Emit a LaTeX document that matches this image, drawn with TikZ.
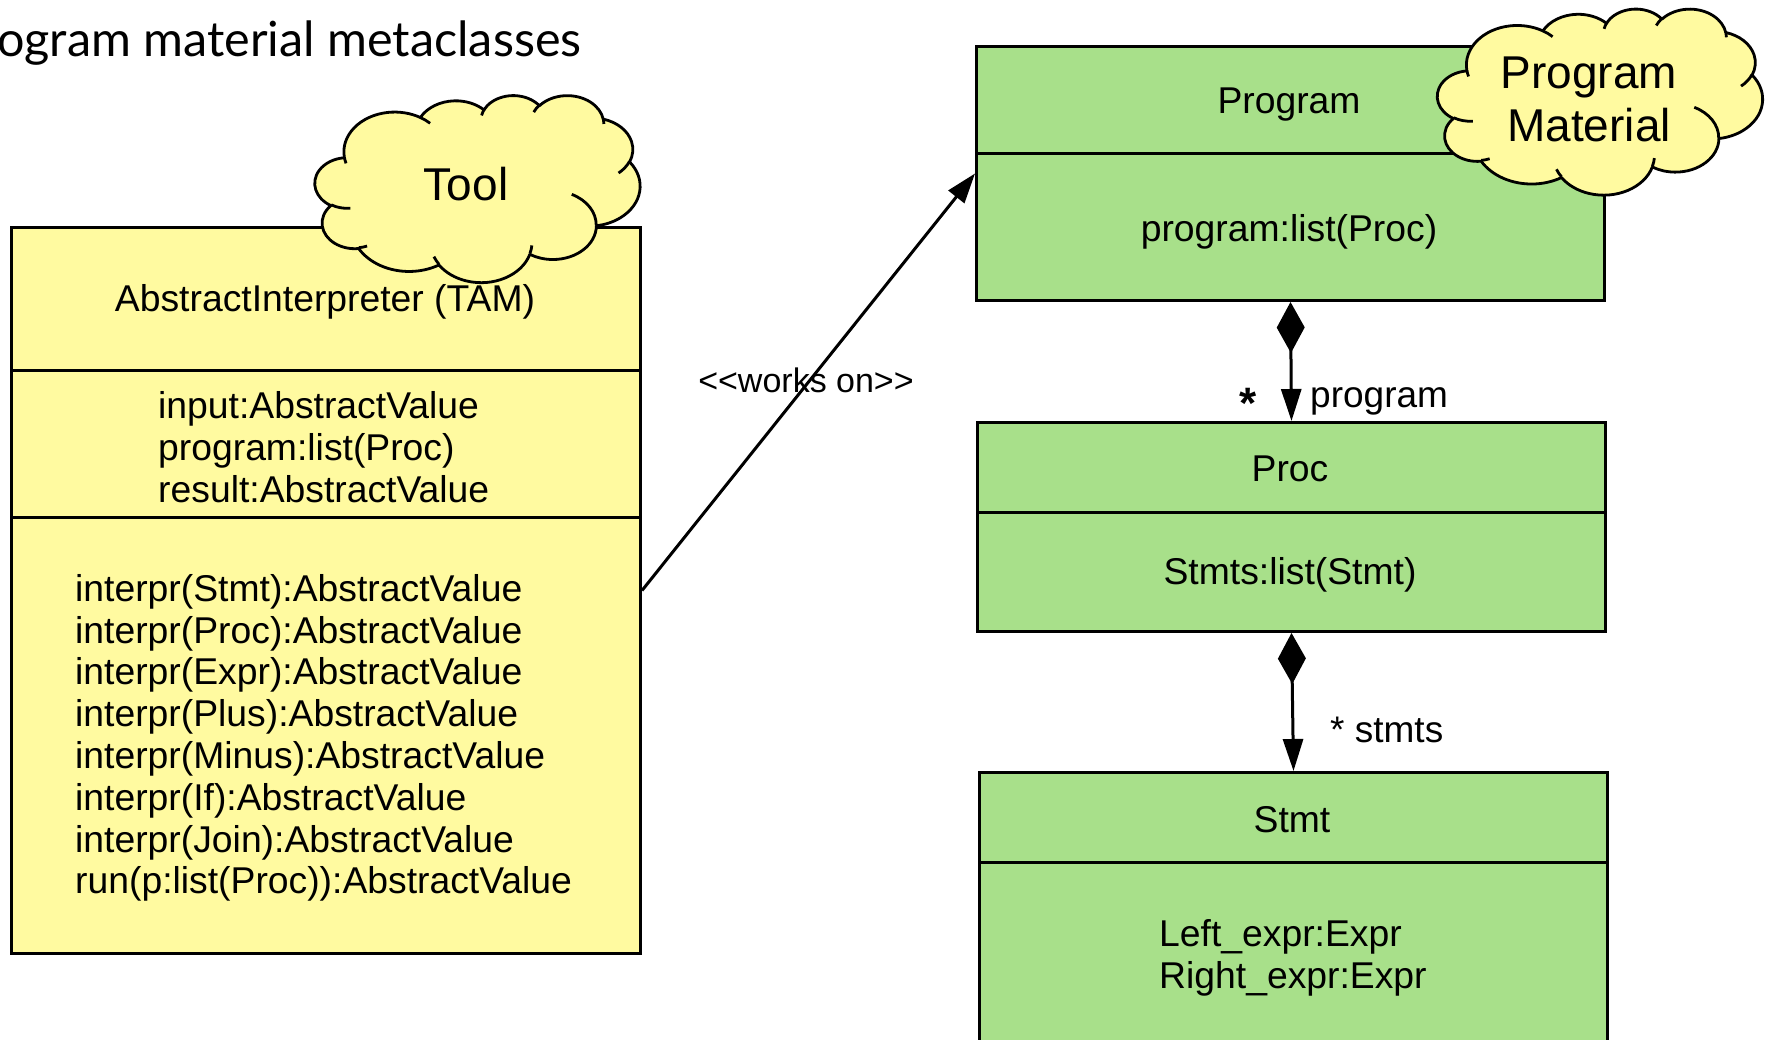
\documentclass[tikz,border=0pt]{standalone}
\usepackage{fontspec}
\setmainfont{Liberation Sans}
\newfontfamily\latofont{Lato}
\usetikzlibrary{arrows.meta,calc}
\definecolor{boxyellow}{RGB}{255,250,160}
\definecolor{boxgreen}{RGB}{168,224,138}
% elliptical arc given DrawingML-style visual angles: wR hR stAng swAng
\newcommand\carc[4]{\pgfextra{\pgfmathsetmacro\cloudA{atan2((#1)*sin(#3),(#2)*cos(#3))}\pgfmathsetmacro\cloudD{mod(atan2((#1)*sin((#3)+(#4)),(#2)*cos((#3)+(#4)))-\cloudA+720,360)}\global\let\cloudA\cloudA\global\let\cloudD\cloudD} arc[x radius=#1, y radius=#2, start angle=\cloudA, delta angle=\cloudD]}
\newcommand\officecloud[4]{% centre x, centre y, width, height
  \pgfmathsetmacro\cloudXu{#3/432}\pgfmathsetmacro\cloudYu{-#4/432}%
  \begin{scope}[shift={(#1-#3/2,#2-#4/2)},x=\cloudXu pt,y=\cloudYu pt]
    \path[draw=black,fill=boxyellow,line width=2.8pt,line join=round]
      (39,143.70) \carc{67.53}{91.90}{-190.4875}{123.7805}
      \carc{53.33}{72.67}{-144.1024}{89.9452}
      \carc{43.65}{59.45}{-145.8079}{99.7230}
      \carc{48.57}{65.95}{-130.9861}{117.2417}
      \carc{53.33}{72.73}{-78.7089}{109.0269}
      \carc{67.75}{92.20}{-46.2673}{130.2690}
      \carc{57.85}{78.67}{0.6250}{114.0333}
      \carc{67.52}{92.15}{22.4516}{115.1726}
      \carc{77.20}{105.43}{66.2426}{75.7110}
      \carc{43.60}{59.18}{-274.9421}{146.7356}
      \carc{43.45}{59.45}{-246.8285}{152.5189} -- cycle;
    \draw[line width=2.8pt]
      (46.93,261.77) \carc{43.45}{59.45}{86.7420}{26.4295}
      (69.28,348.99) \carc{43.60}{59.18}{73.6105}{11.4475}
      (164.78,390.90) \carc{67.52}{92.15}{137.6242}{14.0811}
      (288.27,347.51) \carc{67.52}{92.15}{6.4533}{15.9984}
      (341.29,229.54) \carc{57.85}{78.67}{-70.2924}{70.9174}
      (417.98,153.54) \carc{53.33}{72.73}{30.3180}{27.7515}
      (383.24,54.26) \carc{48.57}{65.95}{-13.7443}{14.8589}
      (290.78,39.52) \carc{48.57}{65.95}{-149.1815}{18.1954}
      (221.41,47.20) \carc{43.65}{59.45}{-163.4943}{19.0087}
      (140.00,51.92) \carc{67.53}{91.90}{-66.7070}{12.3194}
      (41.27,157.89) \carc{67.53}{91.90}{-202.30}{11.81};
  \end{scope}}
\begin{document}
\begin{tikzpicture}[x=1pt,y=-1pt,
  ybox/.style={draw,line width=3pt,fill=boxyellow,rectangle,inner sep=0pt,anchor=north west},
  gbox/.style={draw,line width=3pt,fill=boxgreen,rectangle,inner sep=0pt,anchor=north west},
  txt/.style={inner sep=0pt,font=\fontsize{37.3}{41.8}\selectfont},
  cloudtxt/.style={inner sep=0pt,font=\fontsize{46}{53}\selectfont,align=center},
  conn/.style={line width=3pt},
  lbl/.style={inner sep=0pt,font=\fontsize{37}{40}\selectfont}]
\useasboundingbox (0,0) rectangle (1771,1040);
\clip (0,0) rectangle (1771,1040);

% title
\node[anchor=base west,inner sep=0pt,font=\latofont\fontsize{48.5}{52}\selectfont] (title) at (-3,57) {ogram material metaclasses};

% left class
\node[ybox,minimum width=629pt,minimum height=726pt] (ai) at (10,226) {};
\draw[conn] ($(ai.north west)+(0,144)$) -- ($(ai.north east)+(0,144)$);
\draw[conn] ($(ai.north west)+(0,291)$) -- ($(ai.north east)+(0,291)$);
\officecloud{477.5}{188.5}{325}{187}
\node[cloudtxt] (tooltxt) at (466,184) {Tool};
\node[txt] (ainame) at (325,302) {AbstractInterpreter (TAM)};
\node[txt,anchor=west,align=left] (aiattr) at (158,447) {input:AbstractValue\\program:list(Proc)\\result:AbstractValue};
\node[txt,anchor=west,align=left] (aiops) at (75,738) {interpr(Stmt):AbstractValue\\interpr(Proc):AbstractValue\\interpr(Expr):AbstractValue\\interpr(Plus):AbstractValue\\interpr(Minus):AbstractValue\\interpr(If):AbstractValue\\interpr(Join):AbstractValue\\run(p:list(Proc)):AbstractValue};

% Program
\node[gbox,minimum width=628pt,minimum height=254pt] (prog) at (975,45) {};
\draw[conn] ($(prog.north west)+(0,109)$) -- ($(prog.north east)+(0,109)$);
\node[txt] (progname) at (1289,105) {Program};
\node[txt] (progattr) at (1289,232) {program:list(Proc)};
\officecloud{1600}{101.5}{325}{186}
\node[cloudtxt] (pmtxt) at (1589,99) {Program\\Material};

% Proc
\node[gbox,minimum width=628pt,minimum height=209pt] (proc) at (976,421) {};
\draw[conn] ($(proc.north west)+(0,91)$) -- ($(proc.north east)+(0,91)$);
\node[txt] (procname) at (1290,469) {Proc};
\node[txt] (procattr) at (1290,575) {Stmts:list(Stmt)};

% Stmt
\node[gbox,minimum width=628pt,minimum height=300pt] (stmt) at (978,771) {};
\draw[conn] ($(stmt.north west)+(0,91)$) -- ($(stmt.north east)+(0,91)$);
\node[txt] (stmtname) at (1292,820) {Stmt};
\node[txt,anchor=west,align=left] (stmtattr) at (1159,958) {Left\_expr:Expr\\Right\_expr:Expr};

% connectors
\draw[conn,-{Triangle[length=30pt,width=20pt]}] (ai.east) -- (prog.west);
\node[inner sep=0pt,font=\fontsize{34}{38}\selectfont] (workson) at (806,380) {<{}<works on>{}>};

\draw[conn,{Diamond[length=51pt,width=28pt]}-{Triangle[length=32pt,width=20pt]}] (prog.south) -- (proc.north);
\node[inner sep=0pt,font=\bfseries\fontsize{44}{44}\selectfont] (star1) at (1248,403) {*};
\node[lbl,anchor=west] (progrole) at (1310,401) {program};

\draw[conn,{Diamond[length=51pt,width=28pt]}-{Triangle[length=32pt,width=20pt]}] (proc.south) -- (stmt.north);
\node[lbl,anchor=west] (stmtsrole) at (1330,730) {* stmts};
\end{tikzpicture}
\end{document}
